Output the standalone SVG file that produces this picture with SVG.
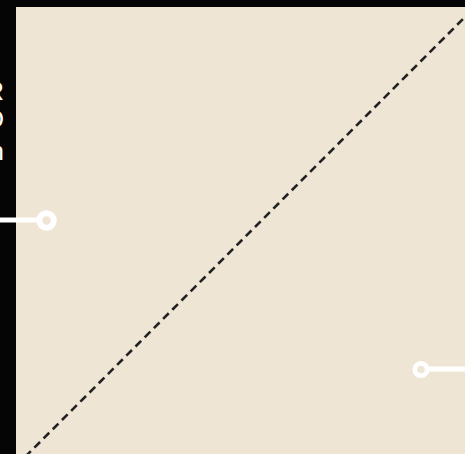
<svg xmlns="http://www.w3.org/2000/svg" width="465" height="454" viewBox="0 0 465 454">
  <style>
    .lbl { font-family: "Liberation Sans", Arial, sans-serif; font-size: 26px; font-weight: normal; fill: #ffffff; text-anchor: end; }
    .wire { stroke: #ffffff; stroke-width: 5; fill: none; }
    .port { stroke: #ffffff; fill: #efe5d5; }
  </style>
  <rect x="0" y="0" width="465" height="454" fill="#050505"/>
  <g id="panel">
    <rect x="16" y="7" width="460" height="460" fill="#efe5d5"/>
  </g>
  <g id="connectors">
    <line x1="16" y1="466" x2="472" y2="10" stroke="#222222" stroke-width="2.6" stroke-dasharray="8 5"/>
    <line class="wire" x1="0" y1="220" x2="40" y2="220"/>
    <line class="wire" x1="429" y1="369" x2="465" y2="369"/>
  </g>
  <g id="label-left">
    <text class="lbl" x="4" y="100">R</text>
    <text class="lbl" x="4" y="128">D</text>
    <text class="lbl" x="4" y="160">n</text>
  </g>
  <g id="port-left">
    <circle class="port" cx="46.5" cy="220.5" r="7.3" stroke-width="6"/>
  </g>
  <g id="port-right">
    <circle class="port" cx="421" cy="369.5" r="6.2" stroke-width="4.8"/>
  </g>
</svg>
